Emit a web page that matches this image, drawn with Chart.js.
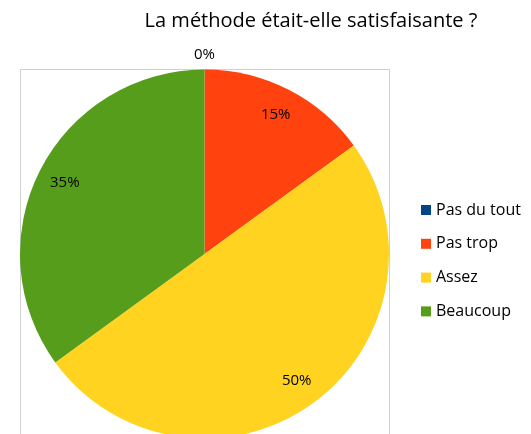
<!DOCTYPE html>
<html>
<head>
<meta charset="utf-8">
<script src="https://cdn.jsdelivr.net/npm/chart.js@4"></script>
<style>
  html, body { margin:0; padding:0; background:#fff; overflow:hidden; }
  #wrap { width:531px; height:434px; overflow:hidden; position:relative; }
</style>
</head>
<body>
<div id="wrap"><canvas id="c" width="531" height="470"></canvas></div>
<script>
// Data
const titleText = "La méthode était-elle satisfaisante ?";
const categories = ["Pas du tout", "Pas trop", "Assez", "Beaucoup"];
const values = [0, 15, 50, 35];
const colors = ["#004586", "#ff420e", "#ffd320", "#579d1c"];

const FONT = "'Open Sans', 'Noto Sans', sans-serif";

// frame, title, labels, legend
const deco = {
    id: "deco",
    beforeDatasetsDraw(chart){
        const ctx = chart.ctx, a = chart.chartArea;
        ctx.save();
        ctx.strokeStyle = "#d0d0d0"; ctx.lineWidth = 1;
        ctx.strokeRect(Math.round(a.left)+0.5, Math.round(a.top)-0.5, Math.round(a.right-a.left), 500);
        ctx.restore();
    },
    afterDatasetsDraw(chart){
        const ctx = chart.ctx;
        const meta = chart.getDatasetMeta(0);
        ctx.save();
        // title
        ctx.fillStyle = "#000";
        ctx.font = `20px ${FONT}`;
        ctx.textAlign = "center"; ctx.textBaseline = "middle";
        ctx.fillText(titleText, 311, 21);

        // slice labels
        ctx.font = `15px ${FONT}`;
        meta.data.forEach((arc, i) => {
            const p = arc.getProps(["x","y","startAngle","endAngle","outerRadius"], true);
            const mid = (p.startAngle + p.endAngle) / 2;
            const r = values[i] === 0 ? p.outerRadius + 15 : p.outerRadius * 0.85;
            ctx.fillText(values[i] + "%", p.x + Math.cos(mid)*r, p.y + Math.sin(mid)*r);
        });

        // legend
        ctx.textAlign = "left";
        ctx.font = `16px ${FONT}`;
        categories.forEach((c, i) => {
            const y = 210 + i*33.8;
            ctx.fillStyle = colors[i];
            ctx.fillRect(421, y-5, 10, 10);
            ctx.fillStyle = "#000";
            ctx.fillText(c, 436, y);
        });
        ctx.restore();
    }
};

new Chart(document.getElementById("c"), {
    type: "pie",
    data: {
        labels: categories,
        datasets: [{ data: values, backgroundColor: colors, borderWidth: 0 }]
    },
    options: {
        responsive: false,
        animation: false,
        layout: { padding: { left: 20, right: 142, top: 69.5, bottom: 31.5 } },
        plugins: { legend: { display: false }, title: { display: false }, tooltip: { enabled: false } }
    },
    plugins: [deco]
});
</script>
</body>
</html>
